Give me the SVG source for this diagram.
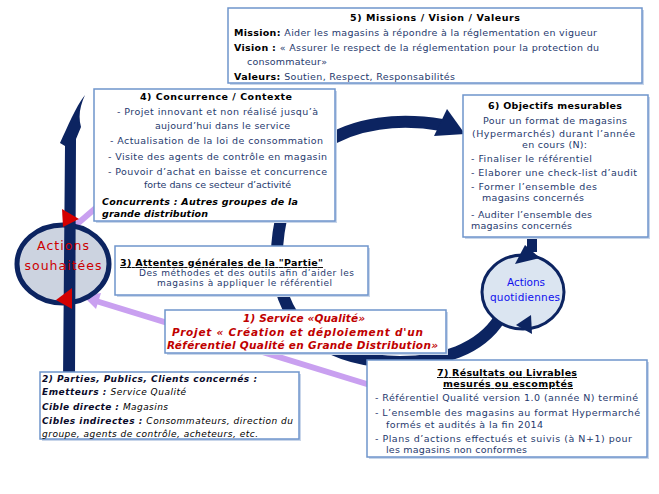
<svg xmlns="http://www.w3.org/2000/svg" width="659" height="494" viewBox="0 0 659 494">
<style>
text{font-family:"DejaVu Sans","Verdana",sans-serif;font-size:9.5px}
.b{font-weight:bold;fill:#000}
.n{fill:#1f3a6e}
.bi{font-weight:bold;font-style:italic}
.it{font-style:italic}
.r{fill:#c00000;font-weight:bold;font-style:italic;font-size:10.5px}
.u{text-decoration:underline}
.box{fill:#fff;stroke:#6f95cc;stroke-width:1.5}
.sh{fill:#c9d6ea}
.ring{fill:none;stroke:#0c2461;stroke-width:12}
.lil{stroke:#c9a0f0;stroke-width:6;fill:none}
</style>
<rect width="659" height="494" fill="#fff"/>
<g id="connectors">
<path class="ring" d="M500,318 C480,350 440,362 400,362 C330,362 288,330 279,280 C272,240 284,175 322,145 C355,122 400,118 442,125"/>
<polygon points="447,109 465,134 434,136" fill="#0c2461"/>
<path d="M532,236 L532,252" stroke="#0c2461" stroke-width="10"/>
<line class="lil" x1="370" y1="385" x2="96" y2="301"/>
<polygon points="83,296 101,293 96,309" fill="#c9a0f0"/>
<line class="lil" x1="76" y1="225" x2="112" y2="194" stroke-width="5"/>
</g>
<g id="actions-souhaitees">
<ellipse cx="63" cy="264" rx="46" ry="39" fill="#ccd3e0" stroke="#0c2461" stroke-width="5"/>
<path d="M85,95 C80,106 78,116 81,127 L76,139 L75,380 L63,380 L65,146 L60,143 C68,126 75,108 85,95 Z" fill="#0c2461"/>
<polygon points="62,209 79,219 63,227" fill="#d40000"/>
<polygon points="72,288 56,300 72,309" fill="#d40000"/>
<text x="63" y="250" text-anchor="middle" fill="#cc0000" style="font-size:12.5px" textLength="52">Actions</text>
<text x="63" y="270" text-anchor="middle" fill="#cc0000" style="font-size:12.5px" textLength="77">souhaitées</text>
</g>
<g id="actions-quotidiennes">
<ellipse cx="523" cy="292" rx="41" ry="37" fill="#dbe5f1" stroke="#0c2461" stroke-width="3"/>
<polygon points="525,245 540,258 515,264" fill="#0c2461"/>
<polygon points="531,315 516,325 532,334" fill="#0c2461"/>
<text x="526" y="286" text-anchor="middle" fill="#1010ee" style="font-size:10.5px" textLength="38">Actions</text>
<text x="525" y="301" text-anchor="middle" fill="#1010ee" style="font-size:10.5px" textLength="70">quotidiennes</text>
</g>
<g id="box5">
<rect class="sh" x="230" y="10" width="414" height="75"/>
<rect class="box" x="228" y="8" width="414" height="75"/>
<text class="b" x="435" y="21" text-anchor="middle" textLength="170">5) Missions / Vision / Valeurs</text>
<text class="n" x="234" y="36" textLength="363"><tspan class="b">Mission</tspan><tspan class="b">: </tspan>Aider les magasins à répondre à la réglementation en vigueur</text>
<text class="n" x="234" y="51" textLength="365"><tspan class="b">Vision : </tspan>« Assurer le respect de la réglementation pour la protection du</text>
<text class="n" x="247" y="65" textLength="80">consommateur»</text>
<text class="n" x="234" y="80" textLength="221"><tspan class="b">Valeurs: </tspan>Soutien, Respect, Responsabilités</text>
</g>
<g id="box4">
<rect class="sh" x="96" y="91" width="241" height="132"/>
<rect class="box" x="94" y="89" width="241" height="132"/>
<text class="b" x="216" y="100" text-anchor="middle" textLength="152">4) Concurrence / Contexte</text>
<text class="n" x="117" y="115" textLength="201">-  Projet innovant et non réalisé jusqu’à</text>
<text class="n" x="155" y="129" textLength="135">aujourd’hui dans le service</text>
<text class="n" x="110" y="144" textLength="213">-  Actualisation de la loi de consommation</text>
<text class="n" x="108" y="160" textLength="219">-  Visite des agents de contrôle en magasin</text>
<text class="n" x="108" y="175" textLength="219">-  Pouvoir d’achat en baisse et concurrence</text>
<text class="n" x="144" y="188" textLength="147">forte dans ce secteur d’activité</text>
<text class="bi" x="102" y="205" textLength="196">Concurrents : Autres groupes de la</text>
<text class="bi" x="102" y="217" textLength="106">grande distribution</text>
</g>
<g id="box6">
<rect class="sh" x="465" y="97" width="185" height="142"/>
<rect class="box" x="463" y="95" width="185" height="142"/>
<text class="b" x="555" y="109" text-anchor="middle" textLength="134">6) Objectifs mesurables</text>
<text class="n" x="483" y="124" textLength="144">Pour un format de magasins</text>
<text class="n" x="472" y="137" textLength="163">(Hypermarchés) durant l’année</text>
<text class="n" x="522" y="148" textLength="65">en cours (N):</text>
<text class="n" x="471" y="162" textLength="121">-  Finaliser le référentiel</text>
<text class="n" x="471" y="176" textLength="166">-  Elaborer une check-list d’audit</text>
<text class="n" x="471" y="190" textLength="126">-  Former l’ensemble des</text>
<text class="n" x="482" y="201" textLength="102">magasins concernés</text>
<text class="n" x="471" y="218" textLength="121">- Auditer l’ensemble des</text>
<text class="n" x="471" y="229" textLength="101">magasins concernés</text>
</g>
<g id="box3">
<rect class="sh" x="117" y="248" width="253" height="49"/>
<rect class="box" x="115" y="246" width="253" height="49"/>
<text class="b u" x="120" y="266" textLength="203">3) Attentes générales de la "Partie"</text>
<text class="n" x="139" y="276" style="font-size:9px" textLength="215">Des méthodes et des outils afin d’aider les</text>
<text class="n" x="157" y="286" style="font-size:9px" textLength="175">magasins à appliquer le référentiel</text>
</g>
<g id="box1">
<rect class="sh" x="167" y="312" width="281" height="43"/>
<rect class="box" x="165" y="310" width="281" height="43"/>
<text class="r" x="243" y="322" textLength="122">1) Service «Qualité»</text>
<text class="r" x="172" y="336" textLength="251">Projet « Création et déploiement d'un</text>
<text class="r" x="167" y="349" textLength="271">Référentiel Qualité en Grande Distribution»</text>
</g>
<g id="box2">
<rect class="sh" x="42" y="374" width="259" height="67"/>
<rect class="box" x="40" y="372" width="259" height="67"/>
<text class="bi" x="42" y="382" style="font-size:9px;fill:#0a0a2a" textLength="215">2) Parties, Publics, Clients concernés :</text>
<text class="it" x="42" y="395" style="font-size:9px" textLength="144"><tspan class="bi" fill="#0a0a2a">Emetteurs : </tspan>Service Qualité</text>
<text class="it" x="42" y="410" style="font-size:9px" textLength="126"><tspan class="bi" fill="#0a0a2a">Cible directe : </tspan>Magasins</text>
<text class="it" x="42" y="424" style="font-size:9px" textLength="251"><tspan class="bi" fill="#0a0a2a">Cibles indirectes : </tspan>Consommateurs, direction du</text>
<text class="it" x="42" y="437" style="font-size:9px" textLength="216">groupe, agents de contrôle, acheteurs, etc.</text>
</g>
<g id="box7">
<rect class="sh" x="369" y="362" width="280" height="97"/>
<rect class="box" x="367" y="360" width="280" height="97"/>
<text class="b u" x="437" y="376" textLength="140">7) Résultats ou Livrables</text>
<text class="b u" x="443" y="387" textLength="130">mesurés ou escomptés</text>
<text class="n" x="375" y="401" textLength="263">-  Référentiel Qualité version 1.0 (année N) terminé</text>
<text class="n" x="375" y="416" textLength="265">-  L’ensemble des magasins au format Hypermarché</text>
<text class="n" x="386" y="428" textLength="157">formés et audités à la fin 2014</text>
<text class="n" x="375" y="442" textLength="257">-  Plans d’actions effectués et suivis (à N+1) pour</text>
<text class="n" x="386" y="453" textLength="141">les magasins non conformes</text>
</g>
</svg>
